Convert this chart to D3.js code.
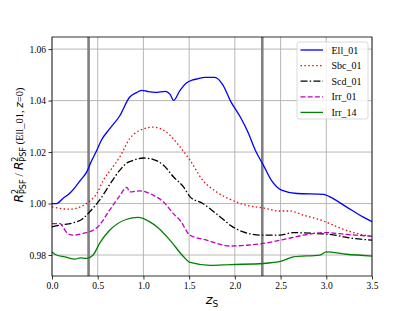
<!DOCTYPE html>
<html>
<head>
<meta charset="utf-8">
<script src="https://cdn.jsdelivr.net/npm/d3@7"></script>
<style>
  body { margin: 0; background: #fff; }
  .tick text { font-family: 'Liberation Serif', serif; font-size: 9.5px; fill: #000; }
  .legend text { font-family: 'Liberation Serif', serif; font-size: 10px; }
</style>
</head>
<body>
<div class="chart"></div>
<script>
// values
let xTicks = [0, 0.5, 1.0, 1.5, 2.0, 2.5, 3.0, 3.5]
let yTicks = [0.98, 1.0, 1.02, 1.04, 1.06]
let markers = [0.4, 2.3]

let ellX = [0, 0.05, 0.12, 0.20, 0.25, 0.31, 0.38, 0.42, 0.49, 0.54, 0.63, 0.74, 0.85, 0.92, 0.98, 1.05, 1.13, 1.24, 1.29, 1.33, 1.40, 1.47, 1.54, 1.60, 1.67, 1.78, 1.87, 1.95, 2.06, 2.14, 2.22, 2.31, 2.40, 2.51, 2.68, 2.97, 3.04, 3.22, 3.40, 3.50]
let ellY = [1.000, 1.000, 1.002, 1.0042, 1.0062, 1.009, 1.0123, 1.0156, 1.0207, 1.0246, 1.029, 1.034, 1.0414, 1.043, 1.044, 1.0435, 1.0432, 1.0436, 1.0425, 1.0401, 1.044, 1.0468, 1.048, 1.0485, 1.049, 1.049, 1.046, 1.040, 1.0336, 1.028, 1.021, 1.015, 1.009, 1.0052, 1.0039, 1.0036, 1.0026, 0.9987, 0.9948, 0.993]

let sbcX = [0, 0.11, 0.2, 0.31, 0.40, 0.49, 0.56, 0.65, 0.74, 0.85, 0.96, 1.11, 1.25, 1.40, 1.51, 1.65, 1.80, 1.95, 2.13, 2.31, 2.49, 2.60, 2.75, 2.97, 3.15, 3.33, 3.50]
let sbcY = [0.9987, 0.998, 0.9978, 0.9987, 1.0006, 1.0039, 1.009, 1.0135, 1.018, 1.0252, 1.0284, 1.0297, 1.0278, 1.022, 1.0168, 1.009, 1.0045, 1.0016, 0.9993, 0.9983, 0.9971, 0.9971, 0.9955, 0.9932, 0.9905, 0.9884, 0.9873]

let scdX = [0, 0.09, 0.23, 0.34, 0.41, 0.52, 0.65, 0.74, 0.82, 0.89, 1.0, 1.11, 1.22, 1.33, 1.44, 1.51, 1.65, 1.84, 1.95, 2.09, 2.31, 2.49, 2.64, 2.86, 3.04, 3.30, 3.50]
let scdY = [0.9909, 0.9916, 0.9925, 0.9942, 0.9967, 1.0013, 1.0084, 1.0129, 1.0158, 1.0168, 1.0177, 1.0171, 1.0149, 1.0103, 1.0064, 1.0026, 1.000, 0.9948, 0.9916, 0.989, 0.9877, 0.9877, 0.9887, 0.9884, 0.988, 0.9864, 0.9858]

let irrX = [0, 0.09, 0.13, 0.17, 0.23, 0.34, 0.45, 0.50, 0.63, 0.74, 0.82, 0.85, 0.96, 1.11, 1.22, 1.33, 1.40, 1.51, 1.69, 1.95, 2.13, 2.31, 2.53, 2.75, 3.0, 3.22, 3.50]
let irrY = [0.9922, 0.9922, 0.9903, 0.9884, 0.9877, 0.9884, 0.9896, 0.9909, 0.9974, 1.003, 1.0063, 1.0045, 1.0049, 1.0032, 1.0006, 0.996, 0.9935, 0.9877, 0.9858, 0.9835, 0.9838, 0.9845, 0.986, 0.9877, 0.9887, 0.988, 0.9873]

let irr14X = [0, 0.05, 0.14, 0.25, 0.31, 0.38, 0.45, 0.52, 0.63, 0.81, 0.94, 1.07, 1.15, 1.29, 1.44, 1.51, 1.73, 1.95, 2.31, 2.51, 2.64, 2.93, 3.0, 3.22, 3.50]
let irr14Y = [0.9812, 0.980, 0.9793, 0.9784, 0.9789, 0.9787, 0.980, 0.9845, 0.9896, 0.9938, 0.9946, 0.9929, 0.9909, 0.9858, 0.9793, 0.9771, 0.976, 0.9763, 0.9767, 0.9776, 0.9793, 0.980, 0.9812, 0.9803, 0.9796]

let names = ['Ell_01', 'Sbc_01', 'Scd_01', 'Irr_01', 'Irr_14']
let colors = ['#0000ff', '#ff0000', '#000000', '#bf00bf', '#008000']
let dashes = [null, '1.5,2.4', '7,2.2,1.5,2.2', '5,2.2', null]

let series = [
  [ellX, ellY],
  [sbcX, sbcY],
  [scdX, scdY],
  [irrX, irrY],
  [irr14X, irr14Y],
].map((s, i) => ({
  name: names[i],
  color: colors[i],
  dash: dashes[i],
  values: s[0].map((x, j) => ({ x: x, y: s[1][j] })),
}))

const width = 415
const height = 311
const margin = { left: 52, right: 43, top: 37, bottom: 35 }

const svg = d3
  .select('.chart')
  .append('svg')
  .attr('width', width)
  .attr('height', height)

let x = d3
  .scaleLinear()
  .domain([0, 3.5])
  .range([margin.left, width - margin.right])

let y = d3
  .scaleLinear()
  .domain([0.97185, 1.0647])
  .range([height - margin.bottom, margin.top])

// grid
svg
  .append('g')
  .selectAll('line')
  .data(xTicks)
  .enter()
  .append('line')
  .attr('x1', (d) => x(d))
  .attr('x2', (d) => x(d))
  .attr('y1', y.range()[0])
  .attr('y2', y.range()[1])
  .style('stroke', '#b0b0b0')
  .style('stroke-width', 0.9)

svg
  .append('g')
  .selectAll('line')
  .data(yTicks)
  .enter()
  .append('line')
  .attr('x1', x.range()[0])
  .attr('x2', x.range()[1])
  .attr('y1', (d) => y(d))
  .attr('y2', (d) => y(d))
  .style('stroke', '#b0b0b0')
  .style('stroke-width', 0.9)

// redshift markers
svg
  .append('g')
  .selectAll('line')
  .data(markers)
  .enter()
  .append('line')
  .attr('x1', (d) => x(d))
  .attr('x2', (d) => x(d))
  .attr('y1', y.range()[0])
  .attr('y2', y.range()[1])
  .style('stroke', '#808080')
  .style('stroke-width', 2.6)

let line = d3
  .line()
  .x((d) => x(d.x))
  .y((d) => y(d.y))
  .curve(d3.curveMonotoneX)

svg
  .append('g')
  .selectAll('path')
  .data(series)
  .enter()
  .append('path')
  .attr('d', (d) => line(d.values))
  .style('fill', 'none')
  .style('stroke', (d) => d.color)
  .style('stroke-width', 1.3)
  .style('stroke-dasharray', (d) => d.dash)

// frame
svg
  .append('rect')
  .attr('x', x.range()[0])
  .attr('y', y.range()[1])
  .attr('width', x.range()[1] - x.range()[0])
  .attr('height', y.range()[0] - y.range()[1])
  .style('fill', 'none')
  .style('stroke', '#000')
  .style('stroke-width', 0.8)

// axes
let xAxis = svg
  .append('g')
  .attr('transform', `translate(0, ${y.range()[0]})`)
  .call(d3.axisBottom(x).tickValues(xTicks).tickFormat(d3.format('.1f')).tickSize(3.5).tickPadding(2.5))
let yAxis = svg
  .append('g')
  .attr('transform', `translate(${x.range()[0]}, 0)`)
  .call(d3.axisLeft(y).tickValues(yTicks).tickFormat(d3.format('.2f')).tickSize(3.5).tickPadding(2.5))
xAxis.select('.domain').remove()
yAxis.select('.domain').remove()
svg.selectAll('.tick line').style('stroke', '#000').style('stroke-width', 0.8)

// x label
let xl = svg
  .append('text')
  .attr('x', (x.range()[0] + x.range()[1]) / 2)
  .attr('y', 304)
  .attr('text-anchor', 'middle')
  .style('font-family', 'DejaVu Sans')
xl.append('tspan').style('font-style', 'italic').style('font-size', '13px').text('z')
xl.append('tspan').attr('dy', 3).style('font-size', '9px').text('S')

// y label
let yl = svg
  .append('text')
  .attr('transform', 'translate(22.5, 145) rotate(-90)')
  .attr('text-anchor', 'middle')
  .style('font-size', '10px')
  .style('font-family', 'DejaVu Sans')
function rTerm(el) {
  el.append('tspan').style('font-style', 'italic').style('font-size', '12px').text('R')
  el.append('tspan').attr('dy', -5).style('font-size', '8px').text('2')
  el.append('tspan').attr('dx', -5).attr('dy', 8.5).style('font-size', '8px').text('PSF')
}
rTerm(yl)
yl.append('tspan').attr('dy', -3.5).style('font-family', 'Liberation Serif').style('font-size', '12px').text(' / ')
rTerm(yl)
yl.append('tspan').attr('dy', -3.5).style('font-family', 'Liberation Serif').style('font-size', '10.5px').text(' (Ell_01, ')
yl.append('tspan').style('font-style', 'italic').style('font-size', '10.5px').text('z')
yl.append('tspan').style('font-family', 'Liberation Serif').style('font-size', '10.5px').text('=0)')

// legend
let lg = svg.append('g').attr('class', 'legend').attr('transform', 'translate(297, 42)')
lg.append('rect')
  .attr('width', 71)
  .attr('height', 77)
  .attr('rx', 2)
  .style('fill', '#fff')
  .style('fill-opacity', 0.8)
  .style('stroke', '#d0d0d0')
  .style('stroke-width', 0.8)
let items = lg
  .selectAll('.item')
  .data(series)
  .enter()
  .append('g')
  .attr('transform', (d, i) => `translate(0, ${8 + i * 15.6})`)
items
  .append('line')
  .attr('x1', 3.5)
  .attr('x2', 26)
  .style('stroke', (d) => d.color)
  .style('stroke-width', 1.3)
  .style('stroke-dasharray', (d) => d.dash)
items
  .append('text')
  .attr('x', 34.5)
  .attr('y', 3.5)
  .text((d) => d.name)
</script>
</body>
</html>
